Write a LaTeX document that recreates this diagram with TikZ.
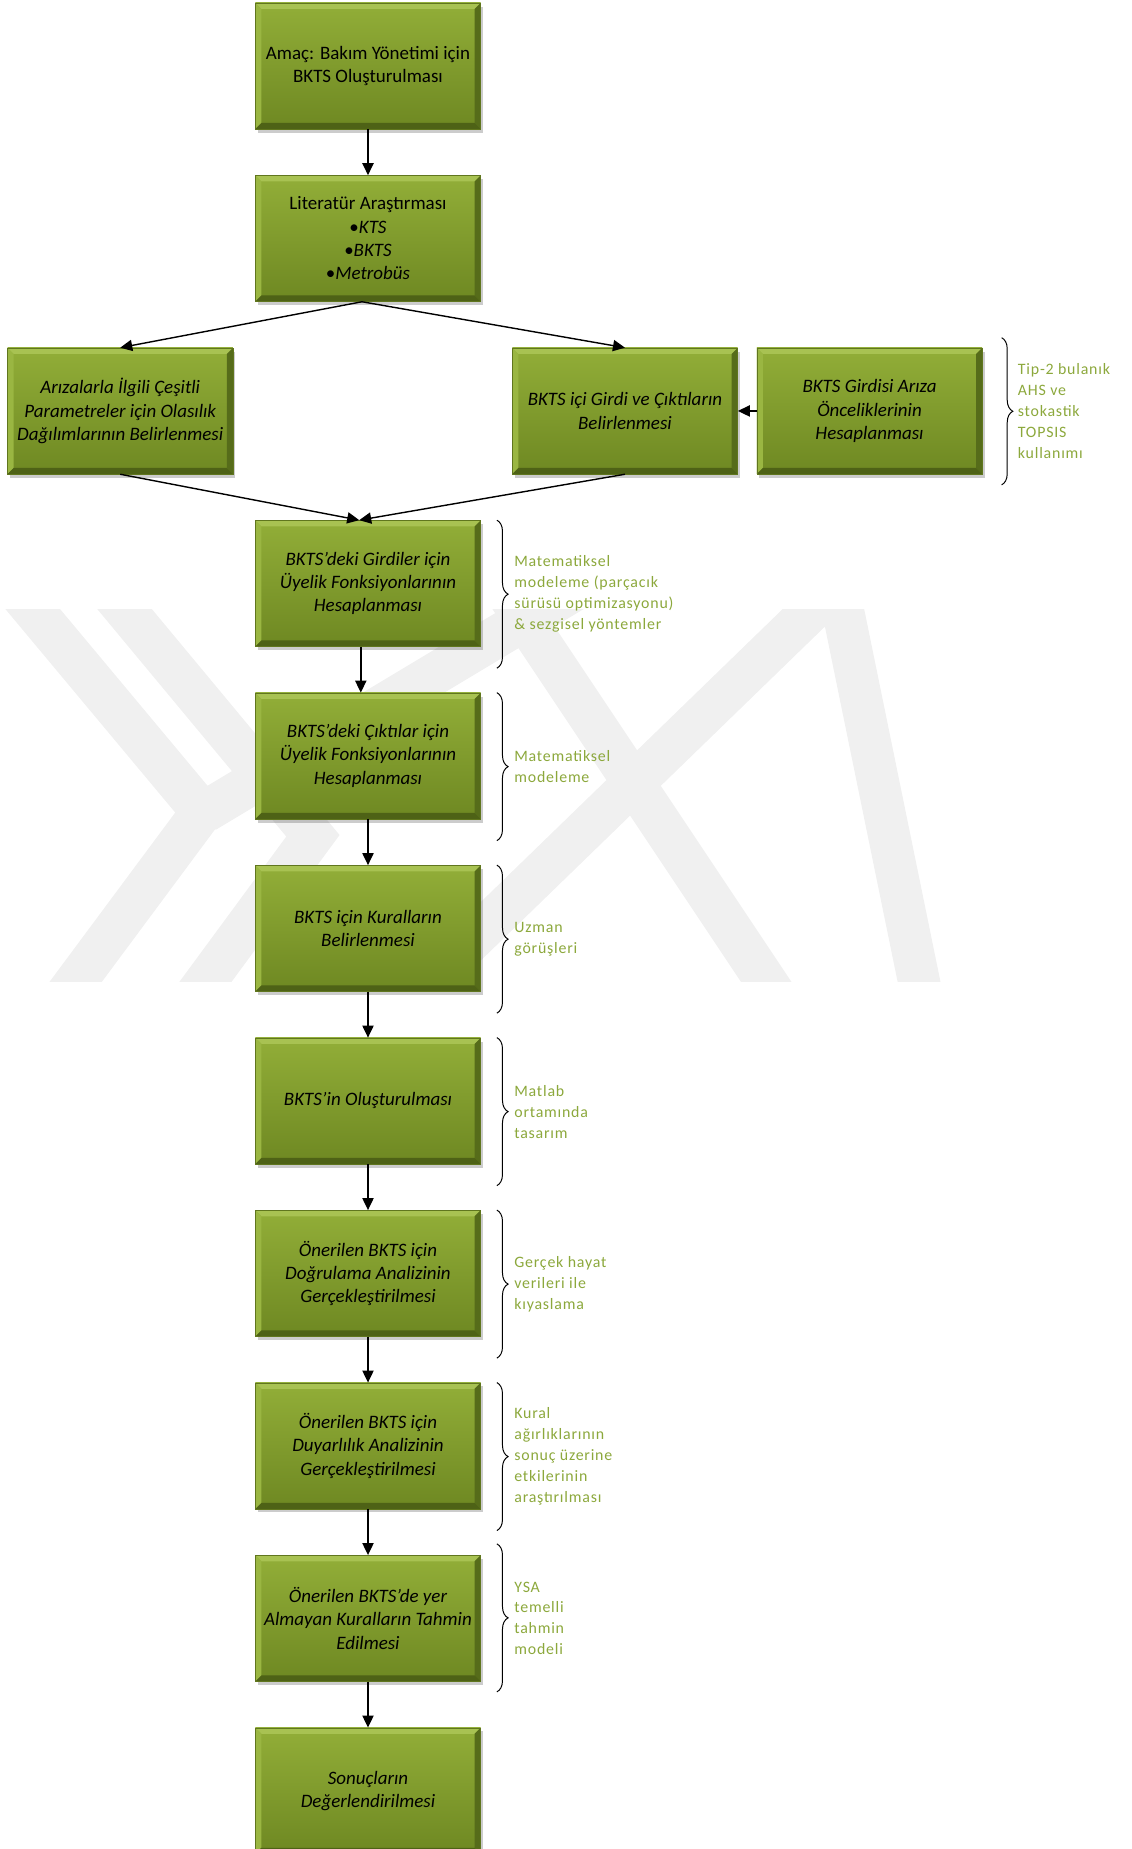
\documentclass[tikz,border=0pt]{standalone}
\usepackage{fontspec}
\setmainfont{Carlito}
\newfontfamily\notefamily[LetterSpace=5]{Carlito}
\usepackage{xcolor}
\usepackage{tikz}
\usetikzlibrary{shapes,arrows.meta,positioning,calc,shadows,decorations.pathreplacing}

\definecolor{boxlight}{RGB}{146,174,56}
\definecolor{boxdark}{RGB}{110,136,34}
\definecolor{bevlight}{RGB}{168,194,82}
\definecolor{bevside}{RGB}{154,182,66}
\definecolor{bevdark}{RGB}{86,108,26}
\definecolor{bevbottom}{RGB}{78,98,22}
\definecolor{boxedge}{RGB}{96,118,30}
\definecolor{notegreen}{RGB}{140,168,60}
\definecolor{wmgray}{RGB}{240,240,240}

\newcommand{\boxfont}{\fontsize{13.5}{16.6}\selectfont\itshape}
\newcommand{\boxfontup}{\fontsize{13.5}{16.6}\selectfont}
\newcommand{\notefont}{\notefamily\fontsize{11.3}{14.9}\selectfont}

\begin{document}
\begin{tikzpicture}[
    node distance=1.148cm and 0.47cm,
    stepbox/.style={rectangle, draw=boxedge, line width=0.4pt, top color=boxlight, bottom color=boxdark,
        minimum width=5.63cm, minimum height=3.15cm, inner sep=2pt, align=center, text=black, font=\boxfont,
        drop shadow={shadow xshift=0.06cm, shadow yshift=-0.09cm, opacity=0.2, fill=black},
        path picture={
            \path (path picture bounding box.north west) coordinate (pnw)
                  (path picture bounding box.north east) coordinate (pne)
                  (path picture bounding box.south west) coordinate (psw)
                  (path picture bounding box.south east) coordinate (pse);
            \fill[bevlight] (pnw) -- (pne) -- ([shift={(-0.15,-0.15)}]pne) -- ([shift={(0.15,-0.15)}]pnw) -- cycle;
            \fill[bevside] (pnw) -- ([shift={(0.15,-0.15)}]pnw) -- ([shift={(0.15,0.15)}]psw) -- (psw) -- cycle;
            \fill[bevdark] (pne) -- (pse) -- ([shift={(-0.15,0.15)}]pse) -- ([shift={(-0.15,-0.15)}]pne) -- cycle;
            \fill[bevbottom] (psw) -- (pse) -- ([shift={(-0.15,0.15)}]pse) -- ([shift={(0.15,0.15)}]psw) -- cycle;
        }},
    arrow/.style={-{Triangle[length=0.3cm,width=0.28cm]}, line width=1pt},
    brace/.style={decorate, decoration={brace, amplitude=0.28cm}, line width=0.7pt},
    note/.style={anchor=west, text=notegreen, font=\notefont, align=left, inner sep=0pt},
    wmband/.style={draw=wmgray, line width=1.05cm, line join=miter},
]

% Page frame
\useasboundingbox (0,0) rectangle (28.275,-46.225);

% Faint background emblem
\begin{scope}[x=0.025cm, y=-0.025cm]
    \clip (0,610) rectangle (1131,982);
    \draw[wmband] (0,570) -- (202,812) -- (55,1010);
    \draw[wmband] (92,570) -- (313,836) -- (185,1010);
    \draw[wmband] (575,590) -- (205,812);
    \draw[wmband] (505,590) -- (785,1010);
    \draw[wmband] (400,1010) -- (838,585) -- (925,1010);
\end{scope}

% Main column
\node[stepbox, font=\boxfontup] (amac) at (9.2,-1.65) {Amaç: Bakım Yönetimi için\\BKTS Oluşturulması};
\node[stepbox, font=\boxfontup, below=of amac] (literatur) {Literatür Araştırması\\\textbullet\textit{KTS}\\\textbullet\textit{BKTS}\\\textbullet\textit{Metrobüs}};

% Side branches
\node[stepbox, below left=1.148cm and 0.55cm of literatur] (ariza) {Arızalarla İlgili Çeşitli\\Parametreler için Olasılık\\Dağılımlarının Belirlenmesi};
\node[stepbox, below right=1.148cm and 0.78cm of literatur] (girdicikti) {BKTS içi Girdi ve Çıktıların\\Belirlenmesi};
\node[stepbox, right=of girdicikti] (oncelik) {BKTS Girdisi Arıza\\Önceliklerinin\\Hesaplanması};

% Fuzzy system steps
\node[stepbox, below=of $(literatur.south |- ariza.south)$] (girdiuyelik) {BKTS’deki Girdiler için\\Üyelik Fonksiyonlarının\\Hesaplanması};
\node[stepbox, below=of girdiuyelik] (ciktiuyelik) {BKTS’deki Çıktılar için\\Üyelik Fonksiyonlarının\\Hesaplanması};
\node[stepbox, below=of ciktiuyelik] (kural) {BKTS için Kuralların\\Belirlenmesi};
\node[stepbox, below=of kural] (olusturma) {BKTS’in Oluşturulması};
\node[stepbox, below=of olusturma] (dogrulama) {Önerilen BKTS için\\Doğrulama Analizinin\\Gerçekleştirilmesi};
\node[stepbox, below=of dogrulama] (duyarlilik) {Önerilen BKTS için\\Duyarlılık Analizinin\\Gerçekleştirilmesi};
\node[stepbox, below=of duyarlilik] (tahmin) {Önerilen BKTS’de yer\\Almayan Kuralların Tahmin\\Edilmesi};
\node[stepbox, below=of tahmin] (sonuc) {Sonuçların\\Değerlendirilmesi};

% Arrows - top of the flow
\draw[arrow] (amac) -- (literatur);
\draw[arrow] ([xshift=-0.15cm]literatur.south) -- (ariza.north);
\draw[arrow] ([xshift=-0.15cm]literatur.south) -- (girdicikti.north);
\draw[arrow] (oncelik) -- (girdicikti);

% Arrows - branches join again
\draw[arrow] (ariza.south) -- ([xshift=-0.22cm]girdiuyelik.north);
\draw[arrow] (girdicikti.south) -- ([xshift=-0.22cm]girdiuyelik.north);

% Arrows - down the column
\draw[arrow] ([xshift=-0.18cm]girdiuyelik.south) -- ([xshift=-0.18cm]ciktiuyelik.north);
\draw[arrow] (ciktiuyelik) -- (kural);
\draw[arrow] (kural) -- (olusturma);
\draw[arrow] (olusturma) -- (dogrulama);
\draw[arrow] (dogrulama) -- (duyarlilik);
\draw[arrow] (duyarlilik) -- (tahmin);
\draw[arrow] (tahmin) -- (sonuc);

% Braces and method notes
\draw[brace] ([xshift=0.48cm,yshift=0.25cm]oncelik.north east) -- ++(0,-3.68);
\node[note] (n_oncelik) at ([xshift=0.88cm]oncelik.east) {Tip-2 bulanık\\AHS ve\\stokastik\\TOPSIS\\kullanımı};

\draw[brace] ([xshift=0.4cm]girdiuyelik.north east) -- ++(0,-3.7);
\node[note] (n_girdi) at ([xshift=0.83cm,yshift=-1.85cm]girdiuyelik.north east) {Matematiksel\\modeleme (parçacık\\sürüsü optimizasyonu)\\\& sezgisel yöntemler};

\draw[brace] ([xshift=0.4cm]ciktiuyelik.north east) -- ++(0,-3.7);
\node[note] (n_cikti) at ([xshift=0.83cm,yshift=-1.85cm]ciktiuyelik.north east) {Matematiksel\\modeleme};

\draw[brace] ([xshift=0.4cm]kural.north east) -- ++(0,-3.7);
\node[note] (n_kural) at ([xshift=0.83cm,yshift=-1.85cm]kural.north east) {Uzman\\görüşleri};

\draw[brace] ([xshift=0.4cm]olusturma.north east) -- ++(0,-3.7);
\node[note] (n_olusturma) at ([xshift=0.83cm,yshift=-1.85cm]olusturma.north east) {Matlab\\ortamında\\tasarım};

\draw[brace] ([xshift=0.4cm]dogrulama.north east) -- ++(0,-3.7);
\node[note] (n_dogrulama) at ([xshift=0.83cm,yshift=-1.85cm]dogrulama.north east) {Gerçek hayat\\verileri ile\\kıyaslama};

\draw[brace] ([xshift=0.4cm]duyarlilik.north east) -- ++(0,-3.7);
\node[note] (n_duyarlilik) at ([xshift=0.83cm,yshift=-1.85cm]duyarlilik.north east) {Kural\\ağırlıklarının\\sonuç üzerine\\etkilerinin\\araştırılması};

\draw[brace] ([xshift=0.4cm,yshift=0.28cm]tahmin.north east) -- ++(0,-3.7);
\node[note] (n_tahmin) at ([xshift=0.83cm]tahmin.east) {YSA\\temelli\\tahmin\\modeli};

\end{tikzpicture}
\end{document}
